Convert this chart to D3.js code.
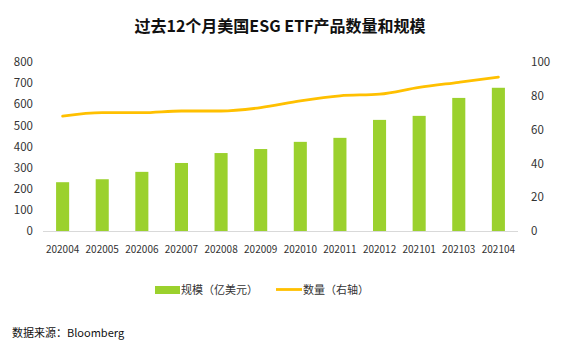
<!DOCTYPE html>
<html>
<head>
<meta charset="utf-8">
<script src="https://cdn.jsdelivr.net/npm/d3@7"></script>
<style>
  body { margin: 0; background: #fff; }
  svg { font-family: "Noto Sans CJK SC", "Noto Sans", sans-serif; }
</style>
</head>
<body>
<svg id="chart" width="561" height="350"></svg>
<script>
const months = ["202004", "202005", "202006", "202007", "202008", "202009",
  "202010", "202011", "202012", "202101", "202103", "202104"];
const scale = [231, 245, 280, 322, 369, 388, 422, 441, 526, 545, 630, 678];
const count = [68, 70, 70, 71, 71, 73, 77, 80, 81, 85, 88, 91];
const leftTicks = [0, 100, 200, 300, 400, 500, 600, 700, 800];
const rightTicks = [0, 20, 40, 60, 80, 100];

const svg = d3.select("#chart");
const width = 561;
const margin = { top: 62, right: 43, bottom: 119, left: 43 };
const plotW = width - margin.left - margin.right;
const plotBottom = 231;
const plotTop = margin.top;

const barColor = "#9bd12d";
const lineColor = "#ffc000";
const textColor = "#333";

svg.append("text")
  .attr("x", 280)
  .attr("y", 32)
  .attr("text-anchor", "middle")
  .attr("font-size", 16)
  .attr("font-weight", "bold")
  .attr("fill", "#111")
  .text("过去12个月美国ESG ETF产品数量和规模");

const x = d3.scaleBand()
  .domain(months)
  .range([margin.left, margin.left + plotW])
  .paddingInner(0.67)
  .paddingOuter(0.33);

const yL = d3.scaleLinear().domain([0, 800]).range([plotBottom, plotTop]);
const yR = d3.scaleLinear().domain([0, 100]).range([plotBottom, plotTop]);

// bars
svg.append("g").selectAll("rect")
  .data(months)
  .join("rect")
  .attr("x", d => x(d))
  .attr("y", (d, i) => yL(scale[i]))
  .attr("width", x.bandwidth())
  .attr("height", (d, i) => plotBottom - yL(scale[i]))
  .attr("fill", barColor);

// bottom axis line
svg.append("line")
  .attr("x1", margin.left).attr("x2", margin.left + plotW)
  .attr("y1", plotBottom + 0.5).attr("y2", plotBottom + 0.5)
  .attr("stroke", "#d9d9d9");

// line
const line = d3.line()
  .x((d, i) => x(months[i]) + x.bandwidth() / 2)
  .y(d => yR(d))
  .curve(d3.curveMonotoneX);

svg.append("path")
  .datum(count)
  .attr("d", line)
  .attr("fill", "none")
  .attr("stroke", lineColor)
  .attr("stroke-width", 2.8)
  .attr("stroke-linecap", "round");

// axes
const leftAxis = svg.append("g")
  .attr("transform", `translate(33,0)`)
  .call(d3.axisLeft(yL).tickValues(leftTicks).tickSize(0).tickPadding(0));
const rightAxis = svg.append("g")
  .attr("transform", `translate(531,0)`)
  .call(d3.axisRight(yR).tickValues(rightTicks).tickSize(0).tickPadding(0));
const bottomAxis = svg.append("g")
  .attr("transform", `translate(0,${plotBottom + 11})`)
  .call(d3.axisBottom(x).tickSize(0).tickPadding(4));

[leftAxis, rightAxis, bottomAxis].forEach(a => {
  a.select(".domain").remove();
  a.selectAll("text")
    .attr("fill", textColor)
    .attr("font-family", "'Noto Sans CJK SC', 'Noto Sans', sans-serif");
});
leftAxis.selectAll("text").attr("font-size", 11.5);
rightAxis.selectAll("text").attr("font-size", 11.5);
bottomAxis.selectAll("text").attr("font-size", 10);

// legend
const legend = svg.append("g").attr("font-size", 11).attr("fill", textColor);
legend.append("rect")
  .attr("x", 155).attr("y", 286).attr("width", 25).attr("height", 8)
  .attr("fill", barColor);
legend.append("text")
  .attr("x", 181).attr("y", 293.5)
  .text("规模（亿美元）");
legend.append("line")
  .attr("x1", 276).attr("x2", 302)
  .attr("y1", 289.5).attr("y2", 289.5)
  .attr("stroke", lineColor).attr("stroke-width", 2.8);
legend.append("text")
  .attr("x", 303).attr("y", 293.5)
  .text("数量（右轴）");

// source
svg.append("text")
  .attr("x", 12).attr("y", 337)
  .attr("font-size", 11)
  .attr("fill", "#111")
  .text("数据来源：Bloomberg");
</script>
</body>
</html>
